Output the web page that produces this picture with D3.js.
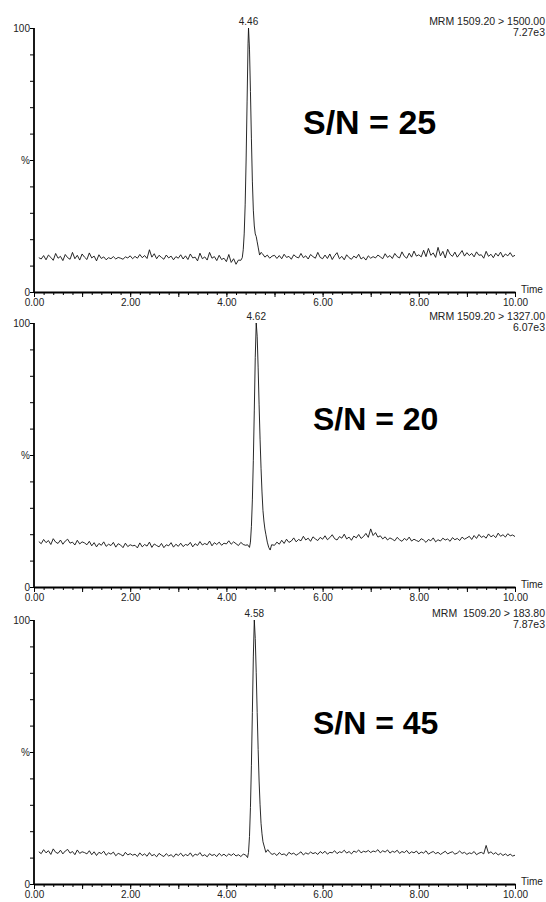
<!DOCTYPE html>
<html><head><meta charset="utf-8">
<script src="https://cdn.jsdelivr.net/npm/d3@7/dist/d3.min.js"></script>
<style>body{margin:0;background:#fff}svg{display:block}text{font-family:"Liberation Sans",Arial,sans-serif}</style>
</head><body><svg id="c" width="546" height="902"></svg>
<script>
// ---- data ----
const step = 0.05;
const xTickLabels = ["0.00","2.00","4.00","6.00","8.00","10.00"];
const peakTimes = ["4.46","4.62","4.58"];
const mrmLabels = ["MRM 1509.20 > 1500.00","MRM 1509.20 > 1327.00","MRM  1509.20 > 183.80"];
const intensityLabels = ["7.27e3","6.07e3","7.87e3"];
const snLabels = ["S/N = 25","S/N = 20","S/N = 45"];

// panel 1
const pre1Start = 0.10;
const pre1 = [13,12.5,13.8,12.2,14,13.1,12,14.6,12.8,13.5,11.9,14.2,13,12.4,15,12.6,13.9,12.1,14.4,13.2,
12.3,14.8,12.9,13.6,11.8,14.1,12.7,13.3,12.2,13,12.6,13.4,12.5,13.1,12.8,12.4,13.3,12.9,13.7,12.6,
13.5,12.8,14.2,13,13.8,12.7,16,13.2,14.5,12.6,13.9,13.1,12.4,14,12.9,13.6,12.2,13.4,12.8,14.1,
12.5,13.7,12.3,14.4,12.9,13.2,11.8,14.7,12.6,13.3,12.1,15,12.8,13.4,11.9,13.9,12.3,12.8,11.5,14.2,
11.2,12.6,10.5,12.1];
const peak1T = [4.30,4.33,4.35,4.37,4.39,4.41,4.43,4.45,4.46,4.48,4.50,4.52,4.54,4.56,4.58,4.60,4.62,4.64,4.66,4.69,4.72];
const peak1V = [12,13,16,22,33,50,72,94,100,92,76,58,42,31,25,22,21,19,17,14,15];
const post1Start = 4.75;
const post1 = [14.5,13.2,14,12.8,13.6,13.9,12.7,
13.8,12.6,14.3,13.1,13.5,12.4,14.1,13.3,12.9,14.6,13,13.7,12.5,14.2,13.4,12.8,15,13.1,12.6,14,
12.7,14.4,12.3,13.8,14.9,12.6,13.5,12.2,14.1,13,12.4,13.6,12.9,14.3,12.5,13.2,12.1,13.7,12.8,13.4,
12.9,14,13.3,12.6,14.5,13.1,13.8,12.7,14.6,13.4,12.9,15.2,13.5,12.8,14.7,13.2,15.5,13.6,14.1,13.3,
15.8,13.4,16.5,13.9,14.8,13.1,16.9,13.7,15.4,12.9,16.2,14.3,13.5,15.1,13.2,14.4,15.7,13.6,14.9,13.8,
14.6,13.3,15.2,13.9,14.1,12.8,15.4,13.5,14.3,13,14.7,13.6,15.1,13.2,14.4,13.7,14.9,13.4,13.9];

// panel 2
const pre2Start = 0.10;
const pre2 = [17.2,16.4,18,16.8,17.6,16.1,18.3,17,16.5,17.8,16.2,17.4,18.1,16.6,17,15.9,17.7,16.3,17.1,16.7,
16,17.3,15.6,16.8,15.2,16.5,15.8,17.1,15.4,16.2,15.7,16.9,15.1,16.4,15.9,14.9,16.6,15.3,16,15.6,
15.8,14.8,16.7,15.2,16.1,15.5,17,15,16.3,15.7,15.2,16.5,14.9,16,15.6,16.8,15.1,16.2,15.4,16.6,
15.3,16.1,15.8,16.9,15.2,16.4,15.7,17.2,15.9,16.5,16,17.4,15.6,16.8,16.1,17,15.8,16.6,16.3,17.5,
16.2,17.1,16.4,15.7,16.9,16.1,15.8];
const peak2T = [4.44,4.48,4.50,4.52,4.54,4.56,4.58,4.60,4.62,4.64,4.66,4.68,4.70,4.72,4.74,4.76,4.78,4.80,4.82,4.85,4.88,4.91,4.94];
const peak2V = [16,15,17,23,33,48,67,87,100,95,83,69,56,45,36,29,25,22,20,17,15,14,16];
const post2Start = 5.00;
const post2 = [15.8,17,16.2,17.7,16.5,18.1,16.9,17.4,18.6,17.1,18,17.5,19.2,17.8,18.5,17.3,19,18.2,17.6,18.8,
18.1,19.4,17.9,18.7,19.8,18.3,17.8,19.1,18.5,20,18.2,18.9,17.7,19.3,18.6,19.9,18.4,19.1,20.3,18.8,
22,19.5,20.6,18.9,19.4,18.2,19,17.8,18.6,18.1,17.5,18.8,17.9,17.3,18.4,17.7,18.9,17.4,18.1,17.6,
17.2,18.3,17.8,16.9,18,17.5,18.6,17.1,17.9,17.4,18.5,17.8,18.2,17.3,18.7,17.9,18.4,17.6,18.9,18.1,
18.6,19.2,18,19.5,18.4,19.9,18.8,19.3,18.5,20.1,19,19.6,18.7,20.4,19.2,19.8,18.9,20.2,19.4,19.7,
19.1];

// panel 3
const pre3Start = 0.10;
const pre3 = [12.2,11.5,13,11.8,12.6,11.2,13.3,12,11.6,12.8,11.4,12.5,13.1,11.7,12.3,11.1,12.9,11.6,12.2,11.9,
11.4,12.6,11.1,12.2,10.8,12,11.5,12.4,10.9,11.8,11.3,12.1,10.7,11.6,11.2,10.6,12,11,11.5,10.9,
11.3,10.4,11.8,10.8,11.4,10.5,11.9,10.7,11.2,10.3,11.6,10.9,10.4,11.5,10.6,11.1,10.2,11.4,10.8,11.7,
10.5,11.2,10.7,11.8,10.4,11.3,10.9,11.9,10.6,11.1,10.3,11.5,10.8,11.2,10.4,11.6,10.7,11.3,10.5,11.4,
10.8,11.5,10.6,11.1,10.4,11.3];
const peak3T = [4.40,4.44,4.46,4.48,4.50,4.52,4.54,4.56,4.58,4.60,4.62,4.64,4.66,4.68,4.70,4.72,4.74,4.76,4.79,4.82,4.86];
const peak3V = [11,10,12,18,29,45,65,86,100,93,80,65,51,39,30,23,19,16,14,12,13];
const post3Start = 4.90;
const post3 = [12,11.2,
11.6,10.8,11.9,11.1,11.4,10.7,12,11.3,11.7,10.9,11.5,12.2,11,11.8,11.3,12.1,11.5,11.9,11.2,12.3,
11.6,12.4,11.3,12,11.8,12.6,11.5,12.2,11.9,12.8,11.7,12.3,11.4,12.5,12,12.9,11.8,12.4,12.1,12.7,
11.9,12.5,12.2,13,11.8,12.6,12.1,12.9,11.7,12.4,12,12.8,11.6,12.3,11.9,12.7,11.5,12.2,11.8,12.5,
11.4,12.1,11.7,12.6,11.3,11.9,12.3,11.5,12,11.2,11.8,12.4,11.4,11.9,12.2,11.3,11.7,12.5,11.6,12,
11.2,11.8,11.5,12.3,11.1,11.7,12,11.4,14.6,11.6,12.2,11.3,11.9,11,11.6,10.8,11.4,10.7,11.3,10.6,
10.9];

// ---- build ----
function series(preStart, pre, pT, pV, postStart, post){
  const pts = [];
  pre.forEach((v,i)=>pts.push([preStart+i*step, v]));
  pT.forEach((t,i)=>pts.push([t, pV[i]]));
  post.forEach((v,i)=>pts.push([postStart+i*step, v]));
  return pts;
}
const panels = [
  {data: series(pre1Start,pre1,peak1T,peak1V,post1Start,post1), peak: 4.46, top: 28, bottom: 292, snX: 303, snY: 134, snSize: 34},
  {data: series(pre2Start,pre2,peak2T,peak2V,post2Start,post2), peak: 4.62, top: 323, bottom: 587, snX: 313, snY: 430, snSize: 32},
  {data: series(pre3Start,pre3,peak3T,peak3V,post3Start,post3), peak: 4.58, top: 620, bottom: 884, snX: 313, snY: 734, snSize: 32}
];

const svg = d3.select("#c");
svg.append("rect").attr("width",546).attr("height",902).attr("fill","#fff");
const x = d3.scaleLinear().domain([0,10]).range([34,515]);
const txt = "#222";

panels.forEach((p,k)=>{
  const y = d3.scaleLinear().domain([0,100]).range([p.bottom,p.top]);
  const g = svg.append("g");
  // trace
  g.append("path").datum(p.data)
    .attr("fill","none").attr("stroke","#111").attr("stroke-width",0.9).attr("stroke-linejoin","round")
    .attr("d", d3.line().x(d=>x(d[0])).y(d=>y(d[1])));
  // y axis
  const yAx = d3.axisLeft(y).tickValues(d3.range(0,101,10)).tickSize(4).tickFormat(d=> d===0?"0":d===100?"100":d===50?"%":"");
  const ya = g.append("g").attr("transform",`translate(${x(0)},0)`).call(yAx);
  ya.select(".domain").attr("stroke","#000").attr("stroke-width",1.8).attr("d",`M0,${p.top}V${p.bottom}`);
  ya.selectAll(".tick line").attr("stroke","#000");
  ya.selectAll(".tick text").attr("fill",txt).attr("font-size",10).attr("x",-4);
  // x axis minor ticks
  const xAx = d3.axisBottom(x).tickValues(d3.range(0,10.001,0.2)).tickSizeInner(3).tickSizeOuter(0).tickFormat("");
  const xa = g.append("g").attr("transform",`translate(0,${p.bottom})`).call(xAx);
  xa.select(".domain").attr("stroke","#000").attr("stroke-width",1.8);
  xa.selectAll(".tick line").attr("stroke","#000");
  // major ticks + labels
  const xAx2 = d3.axisBottom(x).tickValues(d3.range(0,10.001,1)).tickSizeInner(5).tickSizeOuter(0)
     .tickFormat(d=> (d%2===0)? xTickLabels[d/2] : "");
  const xb = g.append("g").attr("transform",`translate(0,${p.bottom})`).call(xAx2);
  xb.select(".domain").remove();
  xb.selectAll(".tick line").attr("stroke","#000");
  xb.selectAll(".tick text").attr("fill",txt).attr("font-size",10).attr("y",7);
  // Time label
  g.append("text").attr("x",521).attr("y",p.bottom+1).attr("font-size",10).attr("fill",txt).text("Time");
  // peak label
  g.append("text").attr("x",x(p.peak)).attr("y",p.top-3).attr("text-anchor","middle").attr("font-size",10).attr("fill",txt).text(peakTimes[k]);
  // MRM labels
  g.append("text").attr("x",545).attr("y",p.top-3).attr("text-anchor","end").attr("font-size",10.5).attr("fill",txt).style("white-space","pre").text(mrmLabels[k]);
  g.append("text").attr("x",545).attr("y",p.top+8).attr("text-anchor","end").attr("font-size",10.5).attr("fill",txt).text(intensityLabels[k]);
  // S/N
  g.append("text").attr("x",p.snX).attr("y",p.snY).attr("font-size",p.snSize).attr("font-weight","bold").attr("fill","#000").text(snLabels[k]);
});
</script></body></html>
